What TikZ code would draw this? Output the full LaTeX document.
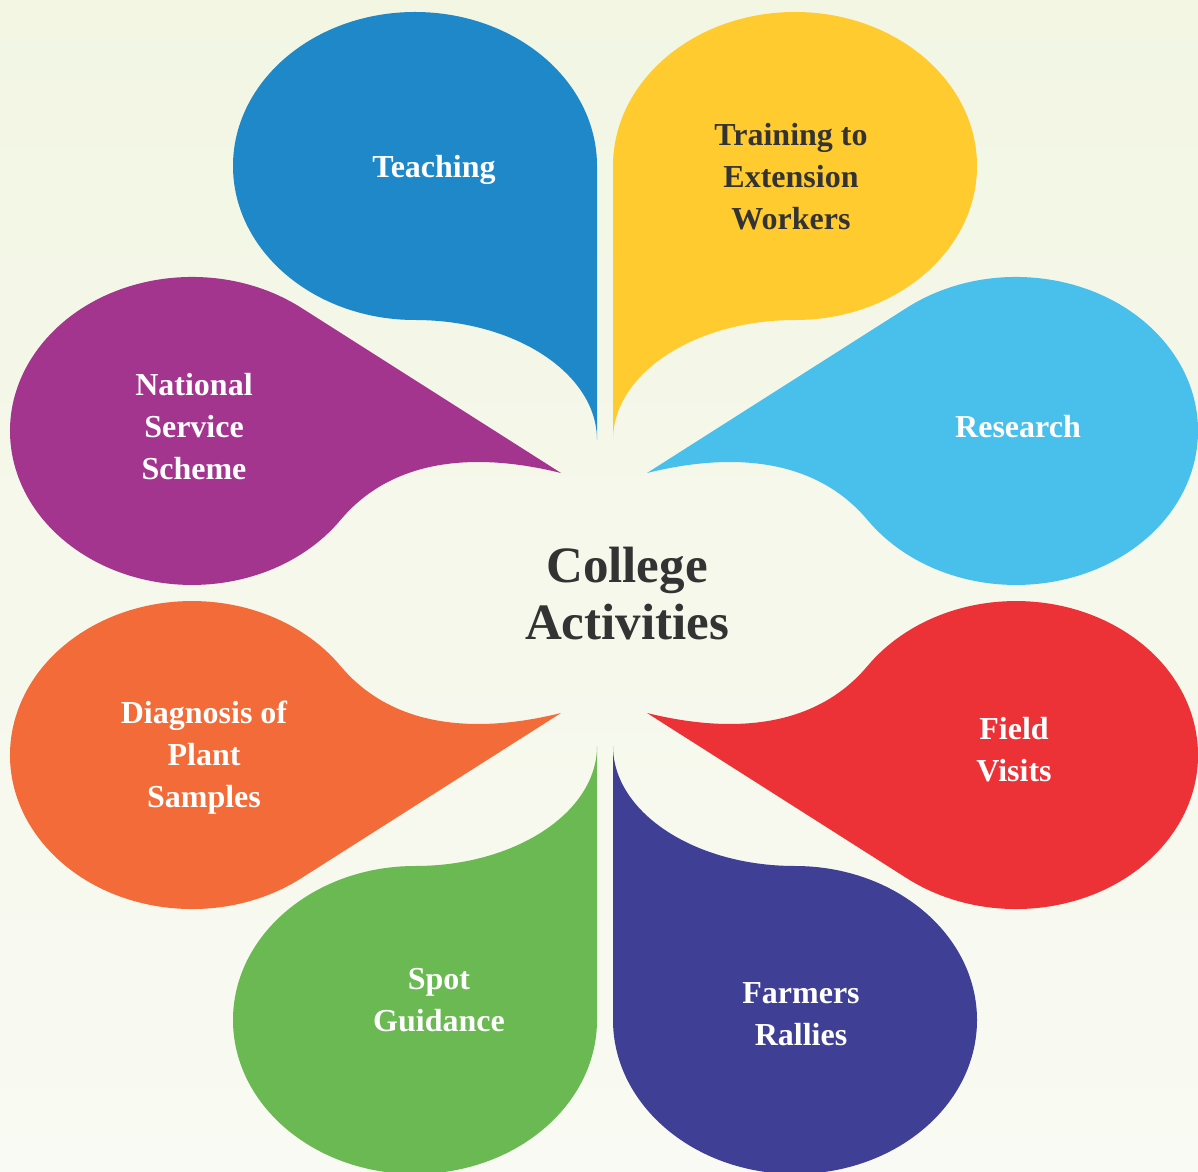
\documentclass[tikz,border=0pt]{standalone}
\usepackage{fontspec}
\setmainfont{Liberation Serif}

\definecolor{bgtop}{HTML}{F2F6E3}
\definecolor{bgbot}{HTML}{F9FAF3}
\definecolor{teachblue}{HTML}{1E88C8}
\definecolor{trainyellow}{HTML}{FFCB2E}
\definecolor{researchblue}{HTML}{49BFEC}
\definecolor{nsspurple}{HTML}{A3358F}
\definecolor{diagorange}{HTML}{F26B38}
\definecolor{fieldred}{HTML}{EC3237}
\definecolor{spotgreen}{HTML}{6BB952}
\definecolor{farmnavy}{HTML}{3F4095}
\definecolor{darktext}{HTML}{333333}

\tikzset {
  % round part of a petal
  body/.style = {
    x radius = 182,
    y radius = 154
  },
  % hollow side running into the tip
  hollow/.style = {
    x radius = 182,
    y radius = 120
  },
  petal text/.style = {
    font = \bfseries\fontsize{32}{42}\selectfont,
    text = white,
    align = center,
    inner sep = 0
  },
  title text/.style = {
    font = \bfseries\fontsize{51}{57}\selectfont,
    text = darktext,
    align = center,
    inner sep = 0
  }
}

\begin{document}
\begin{tikzpicture}[x=1pt, y=1pt]
    \useasboundingbox (0,0) rectangle (1198,1171);
    \shade[top color=bgtop, bottom color=bgbot] (0,0) rectangle (1198,1171);

    % centres of the round parts
    \coordinate (teach-c) at (415,1005);
    \coordinate (train-c) at (795,1005);
    \coordinate (spot-c) at (415,151);
    \coordinate (farm-c) at (795,151);

    % tips
    \coordinate (teach-tip) at (597,731);
    \coordinate (train-tip) at (613,731);
    \coordinate (nss-tip) at (561,698);
    \coordinate (research-tip) at (647,698);
    \coordinate (diag-tip) at (561,458);
    \coordinate (field-tip) at (647,458);
    \coordinate (spot-tip) at (597,425);
    \coordinate (farm-tip) at (613,425);

    % where the straight side meets the round part
    \coordinate (nss-tan) at (301.4,863.1);
    \coordinate (research-tan) at (906.6,863.1);
    \coordinate (diag-tan) at (301.4,292.9);
    \coordinate (field-tan) at (906.6,292.9);

    % where the hollow side meets the round part
    \coordinate (nss-join) at (340.3,650.8);
    \coordinate (research-join) at (867.7,650.8);
    \coordinate (diag-join) at (340.3,505.2);
    \coordinate (field-join) at (867.7,505.2);

    \fill[teachblue]
      (teach-tip)
      -- (teach-tip |- teach-c)
      arc[body, start angle=0, end angle=270]
      arc[hollow, start angle=90, end angle=0]
      -- cycle;

    \fill[trainyellow]
      (train-tip)
      -- (train-tip |- train-c)
      arc[body, start angle=180, end angle=-90]
      arc[hollow, start angle=90, end angle=180]
      -- cycle;

    \fill[nsspurple]
      (nss-tip)
      -- (nss-tan)
      arc[body, start angle=53.05, end angle=324.6]
      .. controls (391.7,712.1) and (473.7,719.6) .. (nss-tip);

    \fill[researchblue]
      (research-tip)
      -- (research-tan)
      arc[body, start angle=126.95, end angle=-144.6]
      .. controls (816.3,712.1) and (734.3,719.6) .. (research-tip);

    \fill[diagorange]
      (diag-tip)
      -- (diag-tan)
      arc[body, start angle=-53.05, end angle=-324.6]
      .. controls (391.7,443.9) and (473.7,436.4) .. (diag-tip);

    \fill[fieldred]
      (field-tip)
      -- (field-tan)
      arc[body, start angle=-126.95, end angle=144.6]
      .. controls (816.3,443.9) and (734.3,436.4) .. (field-tip);

    \fill[spotgreen]
      (spot-tip)
      -- (spot-tip |- spot-c)
      arc[body, start angle=0, end angle=-270]
      arc[hollow, start angle=-90, end angle=0]
      -- cycle;

    \fill[farmnavy]
      (farm-tip)
      -- (farm-tip |- farm-c)
      arc[body, start angle=180, end angle=450]
      arc[hollow, start angle=-90, end angle=-180]
      -- cycle;

    \node[petal text] (teaching) at (434,1001) {Teaching};
    \node[petal text, text=darktext] (training) at (791,994)
      {Training to\\Extension\\Workers};
    \node[petal text] (research) at (1018,744) {Research};
    \node[petal text] (nss) at (194,744) {National\\Service\\Scheme};
    \node[petal text] (diagnosis) at (204,413)
      {Diagnosis of\\Plant\\Samples};
    \node[petal text] (field) at (1014,421) {Field\\Visits};
    \node[petal text] (spot) at (439,171) {Spot\\Guidance};
    \node[petal text] (farmers) at (801,157) {Farmers\\Rallies};

    \node[title text] (college) at (627,577) {College\\Activities};
\end{tikzpicture}
\end{document}
